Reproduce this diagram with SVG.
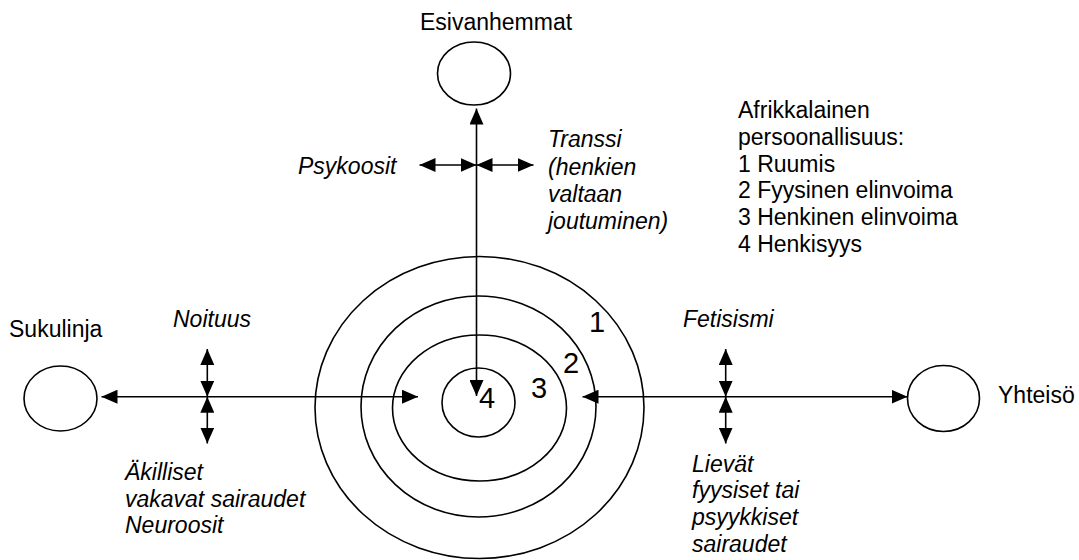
<svg xmlns="http://www.w3.org/2000/svg" width="1079" height="560" viewBox="0 0 1079 560">
<style>
  text { font-family: "Liberation Sans", Arial, sans-serif; font-size: 23px; fill: #000; }
  .it { font-style: italic; }
  .num { font-size: 29px; }
  .shape { fill: none; stroke: #000; stroke-width: 1.6; }
  .conn { fill: none; stroke: #000; stroke-width: 1.6; marker-start: url(#ah); marker-end: url(#ah); }
</style>
<defs>
  <marker id="ah" markerUnits="userSpaceOnUse" markerWidth="16" markerHeight="14" refX="16" refY="7" orient="auto-start-reverse" viewBox="0 0 16 14">
    <path d="M0,0 L16,7 L0,14 z" fill="#000"/>
  </marker>
</defs>
<rect width="1079" height="560" fill="#fff"/>

<g id="rings">
  <ellipse class="shape" cx="479.5" cy="407.5" rx="164.5" ry="151"/>
  <ellipse class="shape" cx="478.5" cy="406.5" rx="117.5" ry="110.5"/>
  <ellipse class="shape" cx="479.5" cy="408" rx="87" ry="73"/>
  <ellipse class="shape" cx="478.5" cy="402.5" rx="36.5" ry="34.5"/>
  <text class="num" x="589" y="332">1</text>
  <text class="num" x="563" y="373">2</text>
  <text class="num" x="531" y="398">3</text>
  <text class="num" x="479" y="408">4</text>
</g>

<g id="esivanhemmat">
  <ellipse class="shape" cx="474" cy="73.5" rx="36.5" ry="31.5"/>
  <text x="420" y="30">Esivanhemmat</text>
</g>

<g id="sukulinja">
  <ellipse class="shape" cx="60.5" cy="398.5" rx="36.5" ry="32.5"/>
  <text x="9" y="337">Sukulinja</text>
</g>

<g id="yhteiso">
  <ellipse class="shape" cx="943.5" cy="398.5" rx="36" ry="33"/>
  <text x="998" y="403">Yhteisö</text>
</g>

<g id="connectors">
  <line class="conn" x1="476.5" y1="396" x2="476.5" y2="108.5"/>
  <line class="conn" x1="476.5" y1="165" x2="419.5" y2="165"/>
  <line class="conn" x1="476.5" y1="165" x2="533.5" y2="165"/>
  <line class="conn" x1="101.5" y1="396.7" x2="418" y2="396.7"/>
  <line class="conn" x1="582.5" y1="396.7" x2="907.5" y2="396.7"/>
  <line class="conn" x1="207.3" y1="349" x2="207.3" y2="396.7"/>
  <line class="conn" x1="207.3" y1="396.7" x2="207.3" y2="443.5"/>
  <line class="conn" x1="725.7" y1="349" x2="725.7" y2="396.7"/>
  <line class="conn" x1="725.7" y1="396.7" x2="725.7" y2="443.5"/>
</g>

<g id="psykoosit">
  <text class="it" x="298" y="174">Psykoosit</text>
</g>

<g id="transsi">
  <text class="it" x="548" y="147">Transsi</text>
  <text class="it" x="548" y="175">(henkien</text>
  <text class="it" x="548" y="202">valtaan</text>
  <text class="it" x="548" y="229">joutuminen)</text>
</g>

<g id="legend">
  <text x="738" y="118">Afrikkalainen</text>
  <text x="738" y="145">persoonallisuus:</text>
  <text x="738" y="172">1 Ruumis</text>
  <text x="738" y="198">2 Fyysinen elinvoima</text>
  <text x="738" y="225">3 Henkinen elinvoima</text>
  <text x="738" y="252">4 Henkisyys</text>
</g>

<g id="noituus">
  <text class="it" x="173" y="327">Noituus</text>
</g>

<g id="akilliset">
  <text class="it" x="125" y="480">Äkilliset</text>
  <text class="it" x="125" y="506.5">vakavat sairaudet</text>
  <text class="it" x="125" y="533">Neuroosit</text>
</g>

<g id="fetisismi">
  <text class="it" x="683" y="327">Fetisismi</text>
</g>

<g id="lievat">
  <text class="it" x="692" y="471.5">Lievät</text>
  <text class="it" x="692" y="498">fyysiset tai</text>
  <text class="it" x="692" y="525">psyykkiset</text>
  <text class="it" x="692" y="551.5">sairaudet</text>
</g>
</svg>
